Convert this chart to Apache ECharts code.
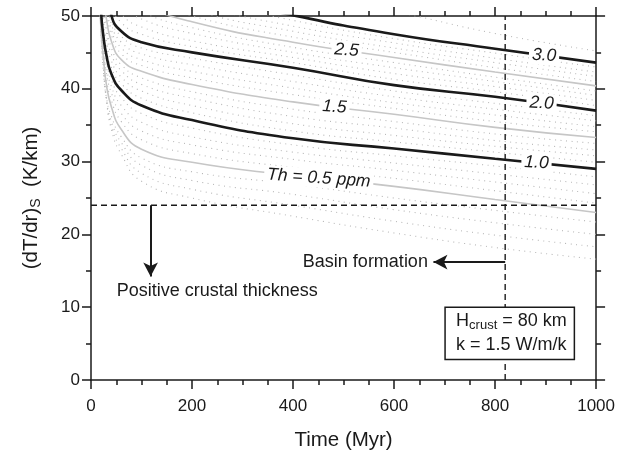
<!DOCTYPE html>
<html>
<head>
<meta charset="utf-8">
<script src="https://cdn.jsdelivr.net/npm/echarts@6/dist/echarts.min.js"></script>
<style>
  html, body { margin: 0; padding: 0; background: #fff; }
  #chart { width: 618px; height: 459px; }
</style>
</head>
<body>
<div id="chart"></div>
<script>
// Time samples (Myr) shared by every curve
const timeMyr = [15, 20, 25, 30, 40, 60, 100, 200, 400, 600, 800, 1000];

// Surface thermal gradient (K/km) for labelled Th contents (solid curves)
const th05 = [56, 48, 44, 40.8, 37.6, 34.4, 31.7, 29.9, 28.1, 26.6, 24.8, 23.0];
const th10 = [60, 50.5, 47, 44.8, 42.1, 39.8, 37.7, 35.7, 33.2, 31.8, 30.4, 29.0];
const th15 = [66, 57, 52, 49.8, 46.6, 44.0, 42.4, 40.6, 38.2, 36.5, 34.7, 33.3];
const th20 = [75, 66, 60, 56, 50.2, 47.9, 46.4, 45.0, 42.9, 40.5, 38.9, 37.0];
const th25 = [85, 75, 68, 64, 58, 54, 51.7, 49.2, 46.4, 44.3, 42.3, 40.4];
const th30 = [100, 85, 78, 72, 65, 59, 56, 53.3, 50.1, 47.5, 45.5, 43.6];

// Intermediate Th contents in 0.1 ppm steps (dotted curves)
const th01 = [66, 51, 43.5, 39, 34.5, 31.0, 27.3, 25.0, 22.5, 20.2, 18.2, 16.6];
const th02 = [63, 50, 43, 38.9, 35, 31.8, 28.4, 26.2, 24.0, 21.8, 19.9, 18.3];
const th03 = [60, 48, 42.5, 38.8, 35.6, 32.6, 29.5, 27.4, 25.5, 23.4, 21.6, 20.0];
const th04 = [58, 47, 42, 39, 36.3, 33.4, 30.5, 28.6, 26.9, 25.0, 23.3, 21.7];
const th06 = [57, 48.5, 44.6, 41.6, 38.5, 35.5, 33.0, 31.1, 29.2, 27.7, 26.0, 24.3];
const th07 = [58, 49, 45.2, 42.4, 39.5, 36.6, 34.2, 32.3, 30.3, 28.8, 27.2, 25.6];
const th08 = [58.5, 49.5, 45.8, 43.2, 40.4, 37.7, 35.4, 33.4, 31.3, 29.8, 28.3, 26.8];
const th09 = [59, 50, 46.4, 44.0, 41.3, 38.8, 36.6, 34.6, 32.3, 30.8, 29.4, 27.9];
const th11 = [61, 52, 48, 45.8, 43.0, 40.7, 38.7, 36.7, 34.2, 32.7, 31.3, 29.9];
const th12 = [62.5, 53.3, 49, 46.8, 43.9, 41.6, 39.7, 37.7, 35.2, 33.6, 32.1, 30.8];
const th13 = [63.5, 54.6, 50, 47.8, 44.8, 42.5, 40.6, 38.7, 36.2, 34.6, 32.9, 31.6];
const th14 = [65, 55.8, 51, 48.8, 45.7, 43.3, 41.5, 39.6, 37.2, 35.5, 33.8, 32.5];
const th16 = [67.5, 58.8, 53.6, 51.0, 47.5, 44.8, 43.2, 41.5, 39.2, 37.3, 35.5, 34.1];
const th17 = [69, 60.6, 55.2, 52.2, 48.2, 45.6, 44.0, 42.4, 40.1, 38.1, 36.4, 34.8];
const th18 = [71, 62.4, 56.8, 53.4, 49.0, 46.4, 44.8, 43.3, 41.0, 38.9, 37.2, 35.6];
const th19 = [73, 64.2, 58.4, 54.7, 49.6, 47.2, 45.6, 44.2, 41.9, 39.7, 38.0, 36.3];
const th21 = [77, 67.8, 61.6, 57.6, 51.8, 49.1, 47.5, 45.8, 43.6, 41.3, 39.6, 37.7];
const th22 = [79, 69.6, 63.2, 59.2, 53.4, 50.3, 48.5, 46.6, 44.3, 42.1, 40.3, 38.4];
const th23 = [81, 71.4, 64.8, 60.8, 55.0, 51.6, 49.6, 47.6, 45.0, 42.9, 41.0, 39.1];
const th24 = [83, 73.2, 66.4, 62.4, 56.5, 52.8, 50.6, 48.4, 45.7, 43.6, 41.6, 39.7];
const th26 = [87, 77, 70, 65.6, 59.4, 55.0, 52.6, 50.0, 47.1, 45.0, 42.9, 41.0];
const th27 = [90, 79, 72, 67.2, 60.8, 56.0, 53.5, 50.8, 47.9, 45.6, 43.6, 41.7];
const th28 = [93, 81, 74, 68.8, 62.2, 57.0, 54.3, 51.7, 48.6, 46.3, 44.2, 42.3];
const th29 = [96, 83, 76, 70.4, 63.6, 58.0, 55.2, 52.5, 49.4, 46.9, 44.9, 43.0];
const th31 = [110, 92, 84, 78, 70, 63, 59.5, 56.5, 53.0, 50.6, 47.6, 45.2];

// Reference markers
const thresholdGradient = 24;   // K/km, zero crustal thickness limit
const basinAge = 820;           // Myr

// Axis ranges and tick steps
const xRange = [0, 1000], xStep = 200;
const yRange = [0, 50], yStep = 10;

const INK = '#1a1a1a';
const FONT = '"Liberation Sans", Arial, sans-serif';

const pairs = (vals) => timeMyr.map((t, i) => [t, vals[i]]);
function valueAt(vals, x) {
  for (let i = 1; i < timeMyr.length; i++) {
    if (x <= timeMyr[i]) {
      const f = (x - timeMyr[i - 1]) / (timeMyr[i] - timeMyr[i - 1]);
      return vals[i - 1] + f * (vals[i] - vals[i - 1]);
    }
  }
  return vals[vals.length - 1];
}

const dotted = [th01, th02, th03, th04, th06, th07, th08, th09, th11, th12, th13, th14,
                th16, th17, th18, th19, th21, th22, th23, th24, th26, th27, th28, th29, th31];

const SMOOTH = 0.5;
const series = [];
dotted.forEach((vals, k) => {
  series.push({
    type: 'line', name: 'dotted' + k, data: pairs(vals), smooth: SMOOTH,
    showSymbol: false, silent: true, z: 1,
    lineStyle: { color: '#b8b8b8', width: 1.1, type: [1, 4.5] }
  });
});

function curve(vals, black, text, lx, rot) {
  return {
    type: 'line', data: pairs(vals), smooth: SMOOTH,
    showSymbol: false, silent: true, z: black ? 4 : 3,
    lineStyle: { color: black ? INK : '#c6c6c6', width: black ? 2.6 : 1.6 },
    markPoint: {
      symbol: 'rect', symbolSize: 1, itemStyle: { color: 'rgba(0,0,0,0)' }, z: 6,
      data: [{
        coord: [lx, valueAt(vals, lx)],
        label: {
          show: true, formatter: text, position: 'inside', rotate: rot,
          fontFamily: FONT, fontStyle: 'italic', fontSize: 17.5, color: INK,
          backgroundColor: '#fff', padding: [1, 3, 0, 3]
        }
      }]
    }
  };
}
series.push(curve(th05, false, 'Th = 0.5 ppm', 451, -4));
series.push(curve(th15, false, '1.5', 482, -4));
series.push(curve(th25, false, '2.5', 506, -4));
series.push(curve(th10, true, '1.0', 882, -3));
series.push(curve(th20, true, '2.0', 892, -3));
series.push(curve(th30, true, '3.0', 897, -3));

const dashStyle = { color: INK, width: 1.4, type: [6, 4] };
series.push({
  type: 'line', data: [[xRange[0], thresholdGradient], [xRange[1], thresholdGradient]],
  showSymbol: false, silent: true, z: 5, lineStyle: dashStyle,
  markLine: {
    silent: true, symbol: ['none', 'arrow'], symbolSize: [11, 14], label: { show: false },
    lineStyle: { color: INK, width: 2, type: 'solid' },
    data: [
      [{ coord: [118, thresholdGradient] }, { coord: [118, 14.2] }],
      [{ coord: [basinAge, 16.2] }, { coord: [678, 16.2] }]
    ]
  }
});
series.push({
  type: 'line', data: [[basinAge, yRange[0]], [basinAge, yRange[1]]],
  showSymbol: false, silent: true, z: 5, lineStyle: dashStyle
});

const axisLine = { show: true, onZero: false, lineStyle: { color: INK, width: 1.5 } };
const tick = { show: true, inside: false, length: 9, lineStyle: { color: INK, width: 1.5 } };
const minor = (n) => ({ show: true, splitNumber: n, length: 5, lineStyle: { color: INK, width: 1.5 } });
const tickLabel = { fontFamily: FONT, fontSize: 17, color: INK, formatter: (v) => String(v) };

const chart = echarts.init(document.getElementById('chart'), null, { renderer: 'canvas' });
chart.setOption({
  animation: false,
  backgroundColor: '#fff',
  grid: { left: 91, right: 19, top: 16, bottom: 79 },
  xAxis: [
    { type: 'value', min: xRange[0], max: xRange[1], interval: xStep, position: 'bottom',
      axisLine, axisTick: tick, minorTick: minor(4), splitLine: { show: false },
      axisLabel: { ...tickLabel, margin: 18 },
      name: 'Time (Myr)', nameLocation: 'middle', nameGap: 50,
      nameTextStyle: { fontFamily: FONT, fontSize: 20.5, color: INK } },
    { type: 'value', min: xRange[0], max: xRange[1], interval: xStep, position: 'top',
      axisLine, axisTick: tick, minorTick: minor(4), splitLine: { show: false },
      axisLabel: { show: false } }
  ],
  yAxis: [
    { type: 'value', min: yRange[0], max: yRange[1], interval: yStep, position: 'left',
      axisLine, axisTick: tick, minorTick: minor(2), splitLine: { show: false },
      axisLabel: { ...tickLabel, margin: 11 },
      name: '(dT/dr){s|S}  (K/km)', nameLocation: 'middle', nameGap: 48, nameRotate: 90,
      nameTextStyle: { fontFamily: FONT, fontSize: 20.5, color: INK,
        rich: { s: { fontFamily: FONT, fontSize: 14, color: INK, padding: [10, 0, 0, 0] } } } },
    { type: 'value', min: yRange[0], max: yRange[1], interval: yStep, position: 'right',
      axisLine, axisTick: tick, minorTick: minor(2), splitLine: { show: false },
      axisLabel: { show: false } }
  ],
  series
});

// Annotation texts and parameter box, anchored through the axes
const at = (x, y) => chart.convertToPixel({ xAxisIndex: 0, yAxisIndex: 0 }, [x, y]);
const pPos = at(51, 12.2);
const bPos = at(667, 16.2);
const boxTL = at(701, 10.0);
const boxBR = at(957, 2.8);
const txt = { fontFamily: FONT, fontSize: 18, fill: INK };
chart.setOption({
  graphic: [
    { type: 'text', x: pPos[0], y: pPos[1], z: 10,
      style: { ...txt, text: 'Positive crustal thickness', verticalAlign: 'middle' } },
    { type: 'text', x: bPos[0], y: bPos[1], z: 10,
      style: { ...txt, text: 'Basin formation', align: 'right', verticalAlign: 'middle' } },
    { type: 'rect', z: 10,
      shape: { x: boxTL[0], y: boxTL[1], width: boxBR[0] - boxTL[0], height: boxBR[1] - boxTL[1] },
      style: { fill: '#fff', stroke: INK, lineWidth: 1.5 } },
    { type: 'text', x: boxTL[0] + 11, y: boxTL[1] + 14, z: 11,
      style: { ...txt, text: '{n|H}{s|crust}{n| = 80 km}', verticalAlign: 'middle',
        rich: { n: { fontFamily: FONT, fontSize: 18, fill: INK },
                s: { fontFamily: FONT, fontSize: 13, fill: INK, padding: [9, 0, 0, 0] } } } },
    { type: 'text', x: boxTL[0] + 11, y: boxTL[1] + 38, z: 11,
      style: { ...txt, text: 'k = 1.5 W/m/k', verticalAlign: 'middle' } }
  ]
});
</script>
</body>
</html>
